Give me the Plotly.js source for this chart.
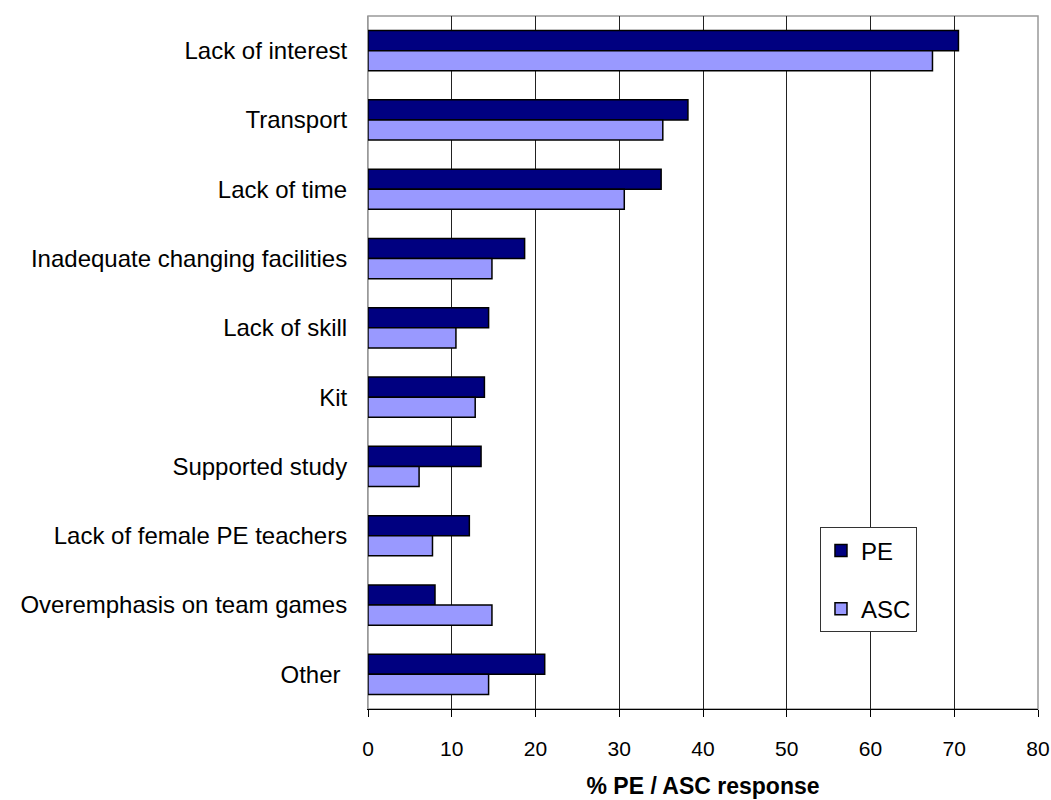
<!DOCTYPE html>
<html>
<head>
<meta charset="utf-8">
<script src="https://cdn.plot.ly/plotly-3.0.1.min.js"></script>
<style>html,body{margin:0;padding:0;background:#fff;}#chart{width:1051px;height:800px;}</style>
</head>
<body>
<div id="chart"></div>
<script>
const categories = ["Lack of interest", "Transport", "Lack of time", "Inadequate changing facilities",
  "Lack of skill", "Kit", "Supported study", "Lack of female PE teachers",
  "Overemphasis on team games", "Other\u00a0"];
const peValues  = [70.5, 38.2, 35.0, 18.7, 14.4, 13.9, 13.5, 12.1, 8.0, 21.1];
const ascValues = [67.4, 35.2, 30.6, 14.8, 10.5, 12.8, 6.1, 7.7, 14.8, 14.4];
const xTicks = [0, 10, 20, 30, 40, 50, 60, 70, 80];

const font = "Liberation Sans, Arial, sans-serif";

const traces = [
  {type: "bar", orientation: "h", name: "PE", y: categories, x: peValues,
   marker: {color: "#000080", line: {color: "#000000", width: 1.5}},
   legendgroup: "pe", hoverinfo: "x+y"},
  {type: "bar", orientation: "h", name: "ASC", y: categories, x: ascValues,
   marker: {color: "#9999FF", line: {color: "#000000", width: 1.5}},
   legendgroup: "asc", hoverinfo: "x+y"}
];

const layout = {
  width: 1051, height: 800,
  margin: {l: 368, r: 13, t: 16, b: 91, pad: 0},
  paper_bgcolor: "#ffffff", plot_bgcolor: "#ffffff",
  font: {family: font, color: "#000000", size: 22},
  barmode: "group", bargap: 0.42, bargroupgap: 0,
  showlegend: true,
  legend: {x: 0.6746, y: 0.262, xanchor: "left", yanchor: "top",
    bgcolor: "#ffffff", bordercolor: "#333333", borderwidth: 1,
    font: {family: font, size: 24, color: "#000000"},
    traceorder: "grouped", tracegroupgap: 24, itemwidth: 30},
  xaxis: {range: [0, 80], tickvals: xTicks, ticktext: xTicks.map(String),
    showgrid: true, gridcolor: "#222222", gridwidth: 1,
    showline: true, linecolor: "#000000", linewidth: 1,
    ticks: "outside", ticklen: 7, tickcolor: "#000000",
    tickfont: {family: font, size: 21}, ticklabelstandoff: 14,
    zeroline: false, fixedrange: true,
    title: {text: "<b>% PE / ASC response</b>", font: {family: font, size: 23}, standoff: 18}},
  yaxis: {type: "category", autorange: "reversed",
    showgrid: false, showline: true, linecolor: "#999999", linewidth: 1,
    ticks: "", tickfont: {family: font, size: 24}, ticklabelstandoff: 15,
    zeroline: false, fixedrange: true},
  shapes: [{type: "rect", xref: "paper", yref: "paper", x0: 0, x1: 1, y0: 0, y1: 1,
    line: {color: "#999999", width: 1.5}, layer: "below"}]
};

Plotly.newPlot("chart", traces, layout, {displayModeBar: false, staticPlot: true});
</script>
</body>
</html>
